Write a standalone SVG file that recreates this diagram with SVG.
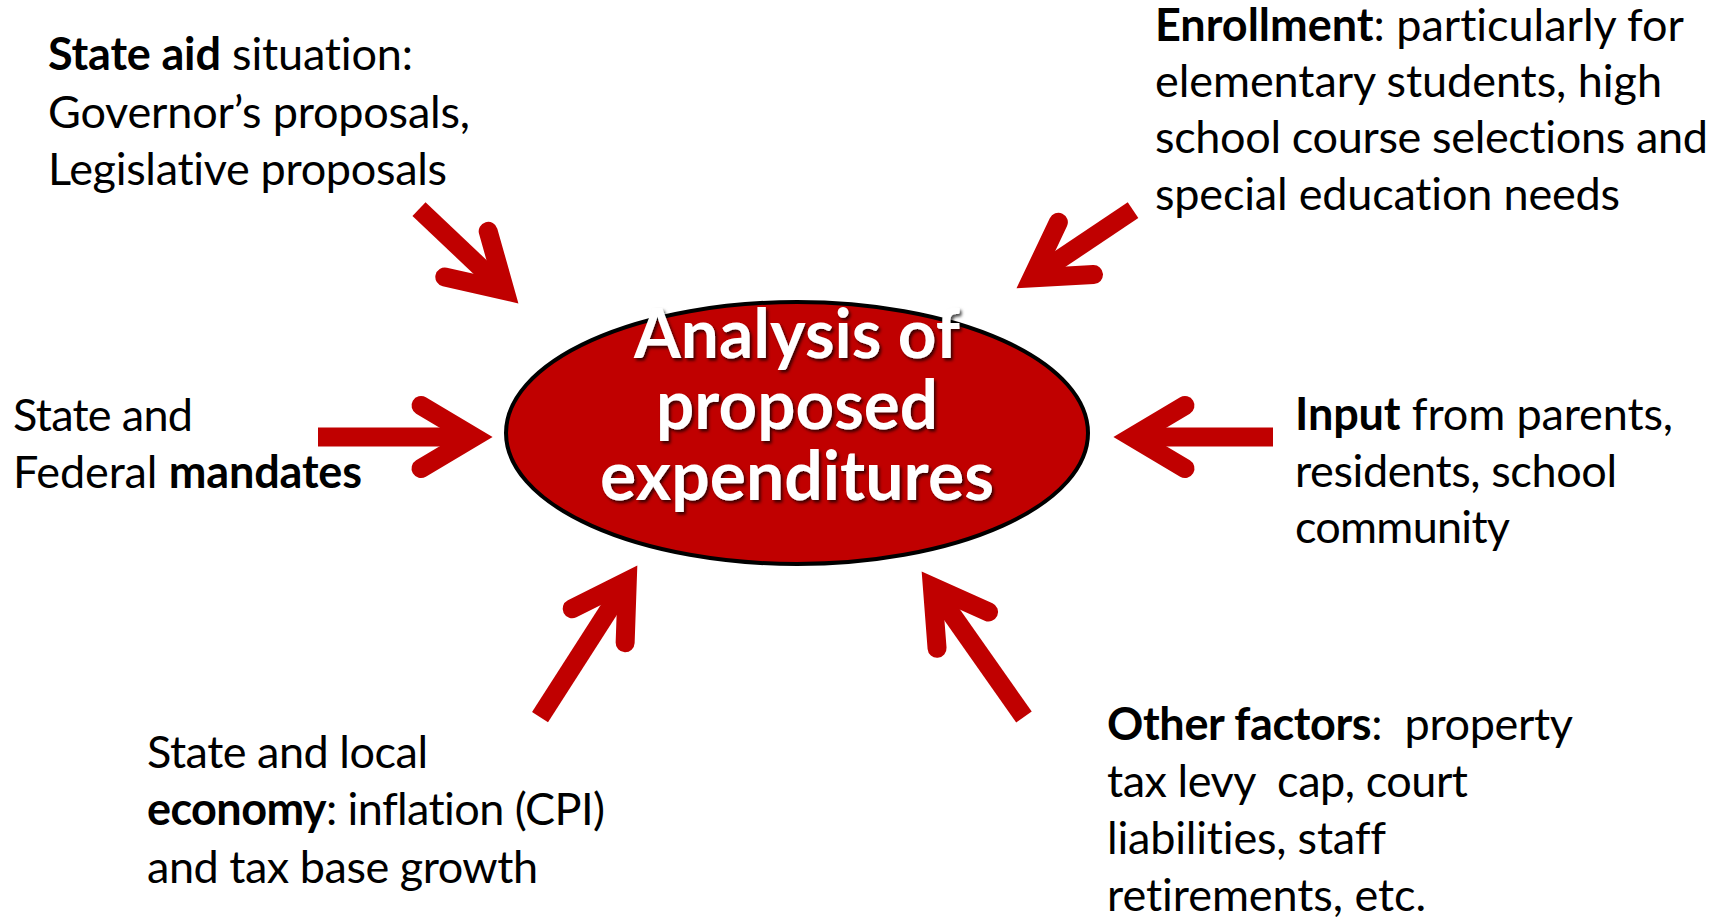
<svg xmlns="http://www.w3.org/2000/svg" xmlns:xlink="http://www.w3.org/1999/xlink" width="1727" height="918" viewBox="0 0 1727 918">
  <style>
    .lbl { font-family: Lato, "Open Sans", "Liberation Sans", sans-serif; font-size: 45px; fill: #000; font-variant-ligatures: none; white-space: pre; }
    .b { font-weight: bold; }
    .ctr { font-family: Lato, "Open Sans", "Liberation Sans", sans-serif; font-size: 69px; font-weight: bold; fill: #fff; text-anchor: middle; font-variant-ligatures: none; }
    .shaft { stroke: #C00000; stroke-width: 19; fill: none; stroke-linecap: butt; }
    .head { stroke: #C00000; stroke-width: 19; fill: none; stroke-linecap: round; stroke-linejoin: miter; stroke-miterlimit: 10; }
  </style>
  <defs>
    <path id="head" class="head" d="M-71,-31.5 L-18,0 L-71,31.5"/>
    <filter id="shadow" filterUnits="userSpaceOnUse" x="500" y="260" width="600" height="300">
      <feDropShadow dx="2" dy="2.5" stdDeviation="1.8" flood-color="#000" flood-opacity="0.7"/>
    </filter>
  </defs>
  <rect width="1727" height="918" fill="#fff"/>

  <g id="connectors">
    <g transform="translate(492,437)">
      <line class="shaft" x1="-174" y1="0" x2="-18" y2="0"/>
      <use href="#head"/>
    </g>
    <g transform="translate(1114,437) rotate(180)">
      <line class="shaft" x1="-159" y1="0" x2="-18" y2="0"/>
      <use href="#head"/>
    </g>
    <g transform="translate(518,303) rotate(43.5)">
      <line class="shaft" x1="-136.5" y1="0" x2="-18" y2="0"/>
      <use href="#head"/>
    </g>
    <g transform="translate(1017,288) rotate(146.1)">
      <line class="shaft" x1="-139.8" y1="0" x2="-18" y2="0"/>
      <use href="#head"/>
    </g>
    <g transform="translate(637,566) rotate(-57.3)">
      <line class="shaft" x1="-179.5" y1="0" x2="-18" y2="0"/>
      <use href="#head"/>
    </g>
    <g transform="translate(922,572) rotate(-125.1)">
      <line class="shaft" x1="-177.3" y1="0" x2="-18" y2="0"/>
      <use href="#head"/>
    </g>
  </g>

  <g id="center">
    <ellipse cx="797" cy="433" rx="291" ry="131" fill="#C00000" stroke="#000" stroke-width="4"/>
    <g filter="url(#shadow)">
      <text class="ctr" x="797" y="358" textLength="326" lengthAdjust="spacingAndGlyphs">Analysis of</text>
      <text class="ctr" x="797" y="429" textLength="282" lengthAdjust="spacingAndGlyphs">proposed</text>
      <text class="ctr" x="797" y="500" textLength="394" lengthAdjust="spacingAndGlyphs">expenditures</text>
    </g>
  </g>

  <g id="state-aid">
    <text class="lbl" x="48" y="70" textLength="365"><tspan class="b">State aid</tspan> situation:</text>
    <text class="lbl" x="48" y="128" textLength="422">Governor’s proposals,</text>
    <text class="lbl" x="48" y="185" textLength="399">Legislative proposals</text>
  </g>

  <g id="enrollment">
    <text class="lbl" x="1155" y="41" textLength="529"><tspan class="b">Enrollment</tspan>: particularly for</text>
    <text class="lbl" x="1155" y="97" textLength="507">elementary students, high</text>
    <text class="lbl" x="1155" y="153" textLength="553">school course selections and</text>
    <text class="lbl" x="1155" y="210" textLength="465">special education needs</text>
  </g>

  <g id="mandates">
    <text class="lbl" x="13" y="431" textLength="180">State and</text>
    <text class="lbl" x="13" y="488" textLength="349">Federal <tspan class="b">mandates</tspan></text>
  </g>

  <g id="input">
    <text class="lbl" x="1295" y="430" textLength="378"><tspan class="b">Input</tspan> from parents,</text>
    <text class="lbl" x="1295" y="487" textLength="322">residents, school</text>
    <text class="lbl" x="1295" y="543" textLength="215">community</text>
  </g>

  <g id="economy">
    <text class="lbl" x="147" y="768" textLength="281">State and local</text>
    <text class="lbl" x="147" y="825" textLength="458"><tspan class="b">economy</tspan>: inflation (CPI)</text>
    <text class="lbl" x="147" y="883" textLength="391">and tax base growth</text>
  </g>

  <g id="other-factors">
    <text class="lbl" x="1107" y="740" textLength="466" xml:space="preserve"><tspan class="b">Other factors</tspan>:  property</text>
    <text class="lbl" x="1107" y="797" textLength="361" xml:space="preserve">tax levy  cap, court</text>
    <text class="lbl" x="1107" y="854" textLength="279">liabilities, staff</text>
    <text class="lbl" x="1107" y="911" textLength="319">retirements, etc.</text>
  </g>
</svg>
